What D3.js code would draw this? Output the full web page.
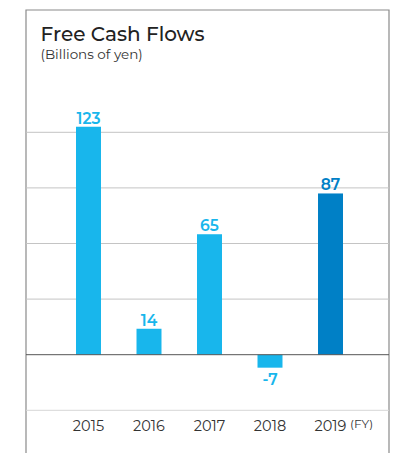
<!DOCTYPE html>
<html>
<head>
<meta charset="utf-8">
<script src="https://cdn.jsdelivr.net/npm/d3@7"></script>
<style>
  body { margin: 0; background: #fff; }
  svg { display: block; font-family: "Montserrat", "Noto Sans", sans-serif; }
</style>
</head>
<body>
<svg id="chart" width="404" height="453"></svg>
<script>
// data
var years = ["2015", "2016", "2017", "2018", "2019"];
var values = [123, 14, 65, -7, 87];
var gridTicks = [-30, 30, 60, 90, 120];

var cfg = {
    light: "#18b6ec",
    dark: "#0080c6",
    frameLeft: 26,
    frameRight: 389,
    frameTop: 10
};

var svg = d3.select("#chart");

var x = d3.scaleBand()
    .domain(years)
    .range([76, 343])
    .paddingInner(0.587)
    .paddingOuter(0);

var y = d3.scaleLinear()
    .domain([-30, 120])
    .range([410.3, 132.3]);

// frame
svg.append("path")
    .attr("d", "M" + cfg.frameLeft + ",453V" + cfg.frameTop + "H" + cfg.frameRight + "V453")
    .attr("fill", "none")
    .attr("stroke", "#8a8a8a")
    .attr("stroke-width", 1.2);

// grid
svg.append("g")
    .selectAll("line")
    .data(gridTicks)
    .enter()
    .append("line")
    .attr("x1", cfg.frameLeft)
    .attr("x2", cfg.frameRight)
    .attr("y1", function (d) { return y(d); })
    .attr("y2", function (d) { return y(d); })
    .attr("stroke", function (d) { return d < 0 ? "#d6d6d6" : "#c4c4c4"; })
    .attr("stroke-width", 1);

// bars
svg.append("g")
    .selectAll("rect")
    .data(values)
    .enter()
    .append("rect")
    .attr("x", function (d, i) { return x(years[i]); })
    .attr("width", x.bandwidth())
    .attr("y", function (d) { return y(Math.max(d, 0)); })
    .attr("height", function (d) { return Math.abs(y(d) - y(0)); })
    .attr("fill", function (d, i) { return i === years.length - 1 ? cfg.dark : cfg.light; });

// zero line
svg.append("line")
    .attr("x1", cfg.frameLeft)
    .attr("x2", cfg.frameRight)
    .attr("y1", y(0))
    .attr("y2", y(0))
    .attr("stroke", "#555")
    .attr("stroke-width", 1);

// value labels
svg.append("g")
    .selectAll("text")
    .data(values)
    .enter()
    .append("text")
    .attr("x", function (d, i) { return x(years[i]) + x.bandwidth() / 2; })
    .attr("y", function (d) { return d >= 0 ? y(d) - 3 : y(d) + 17; })
    .attr("text-anchor", "middle")
    .attr("font-size", 15.5)
    .attr("font-weight", 600)
    .attr("fill", function (d, i) { return i === years.length - 1 ? cfg.dark : cfg.light; })
    .text(function (d) { return d; });

// x axis labels
svg.append("g")
    .selectAll("text")
    .data(years)
    .enter()
    .append("text")
    .attr("x", function (d) { return x(d) + x.bandwidth() / 2; })
    .attr("y", 431)
    .attr("text-anchor", "middle")
    .attr("font-size", 14.5)
    .attr("fill", "#333")
    .text(function (d) { return d; });

svg.append("text")
    .attr("x", 350)
    .attr("y", 428)
    .attr("font-size", 12)
    .attr("fill", "#333")
    .text("(FY)");

// titles
svg.append("text")
    .attr("x", 40.5)
    .attr("y", 40.7)
    .attr("font-size", 20)
    .attr("font-weight", 500)
    .attr("fill", "#222")
    .text("Free Cash Flows");

svg.append("text")
    .attr("x", 40.5)
    .attr("y", 59)
    .attr("font-size", 13.5)
    .attr("fill", "#333")
    .text("(Billions of yen)");
</script>
</body>
</html>
